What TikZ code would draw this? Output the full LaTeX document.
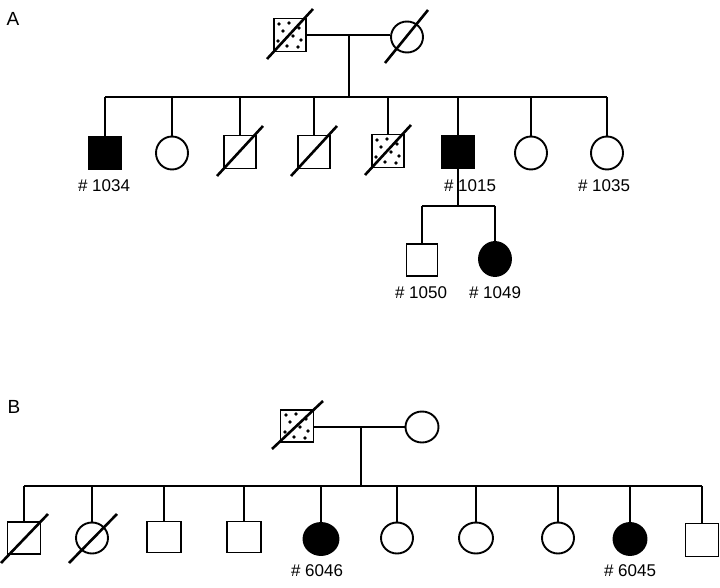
\documentclass[tikz,border=0pt]{standalone}
\usepackage{fontspec}
\setmainfont{Liberation Sans}
\usetikzlibrary{shapes.geometric}
\tikzset{
  sq/.style={draw, line width=1.9pt, rectangle, inner sep=0pt, minimum width=32pt, minimum height=33pt, fill=white},
  ci/.style={draw, line width=1.9pt, ellipse, inner sep=0pt, minimum width=32pt, minimum height=33pt, fill=white},
  aff/.style={fill=black},
  lbl/.style={inner sep=0pt, font=\fontsize{17}{19}\selectfont},
  panel/.style={inner sep=0pt, font=\fontsize{19}{21}\selectfont},
  ln/.style={line width=1.9pt},
  slash/.style={line width=2.6pt}
}
\newcommand\stipple[1]{%
  \foreach \dx/\dy in {-11/-11,-1/-12,9/-7,-7/-4,-12/6,3/1,11/5,-3/11,8/12}
    \fill ([shift={(\dx,\dy)}]#1.center) circle (1.8pt);}
\newcommand\strike[1]{%
  \draw[slash] ([shift={(-23,24)}]#1.center) -- ([shift={(23,-26)}]#1.center);}
\begin{document}
\begin{tikzpicture}[x=1pt,y=-1pt]
\useasboundingbox (0,0) rectangle (720,588);
\fill[white] (0,0) rectangle (720,588);

% ---------------- Panel A ----------------
\node[panel] (pA) at (13,19) {A};
\node[sq] (fA) at (290,35) {};
\node[ci, minimum height=31pt] (mA) at (407,37) {};
\stipple{fA}
\strike{fA}
\draw[slash] ([shift={(-22,26)}]mA.center) -- ([shift={(21,-27)}]mA.center);
\coordinate (mlA) at (349,35);
\coordinate (slA) at (349,97);
\draw[ln] (fA.east) -- (fA.east -| mA.west);
\draw[ln] (mlA) -- (slA);

\node[sq, aff] (a1) at (105,153) {};
\node[ci] (a2) at (172,153) {};
\node[sq] (a3) at (240,152) {};
\node[sq] (a4) at (314,152) {};
\node[sq] (a5) at (388,151) {};
\node[sq, aff] (a6) at (458,152) {};
\node[ci] (a7) at (531,153) {};
\node[ci] (a8) at (607,153) {};
\strike{a3}
\strike{a4}
\stipple{a5}
\strike{a5}

\draw[ln] (a1.north |- slA) -- (a8.north |- slA);
\foreach \n in {a1,a2,a3,a4,a5,a6,a7,a8}
  \draw[ln] (\n.north |- slA) -- (\n.north);

\node[lbl] (l1034) at (104,186) {\# 1034};
\node[lbl] (l1015) at (470,186) {\# 1015};
\node[lbl] (l1035) at (604,186) {\# 1035};

\coordinate (slA2) at (458,206);
\node[sq, minimum width=31pt, minimum height=32pt] (b1) at (422,260) {};
\node[ci, minimum height=34pt, aff] (b2) at (495,259) {};
\draw[ln] (a6.south) -- (slA2);
\draw[ln] (b1.north |- slA2) -- (b2.north |- slA2);
\draw[ln] (b1.north |- slA2) -- (b1.north);
\draw[ln] (b2.north |- slA2) -- (b2.north);
\node[lbl] (l1050) at (421,293) {\# 1050};
\node[lbl] (l1049) at (495,293) {\# 1049};

% ---------------- Panel B ----------------
\node[panel] (pB) at (14,407) {B};
\node[sq, minimum width=33pt, minimum height=32pt] (fB) at (297,426) {};
\node[ci, minimum width=33pt, minimum height=31pt] (mB) at (422,427) {};
\stipple{fB}
\draw[slash] ([shift={(-25,23)}]fB.center) -- ([shift={(26,-25)}]fB.center);
\coordinate (mlB) at (361,427);
\coordinate (slB) at (361,486);
\draw[ln] (fB.east |- mlB) -- (mB.west);
\draw[ln] (mlB) -- (slB);

\node[sq, minimum width=33pt, minimum height=32pt] (c1) at (24,538) {};
\node[ci, minimum height=31pt] (c2) at (92,538) {};
\node[sq, minimum width=34pt, minimum height=31pt] (c3) at (164,537) {};
\node[sq, minimum width=34pt, minimum height=31pt] (c4) at (244,537) {};
\node[ci, minimum width=35pt, minimum height=32pt, aff] (c5) at (321,539) {};
\node[ci, minimum height=31pt] (c6) at (397,538) {};
\node[ci, minimum width=34pt, minimum height=31pt] (c7) at (476,538) {};
\node[ci, minimum height=31pt] (c8) at (558,538) {};
\node[ci, minimum width=33pt, minimum height=32pt, aff] (c9) at (630,539) {};
\node[sq, minimum width=33pt, minimum height=33pt] (c10) at (702,540) {};
\draw[slash] ([shift={(-23,25)}]c1.center) -- ([shift={(24,-24)}]c1.center);
\draw[slash] ([shift={(-23,25)}]c2.center) -- ([shift={(25,-24)}]c2.center);

\draw[ln] (c1.north |- slB) -- (c10.north |- slB);
\foreach \n in {c1,c2,c3,c4,c5,c6,c7,c8,c9,c10}
  \draw[ln] (\n.north |- slB) -- (\n.north);

\node[lbl] (l6046) at (317,571) {\# 6046};
\node[lbl] (l6045) at (630,571) {\# 6045};
\end{tikzpicture}
\end{document}
